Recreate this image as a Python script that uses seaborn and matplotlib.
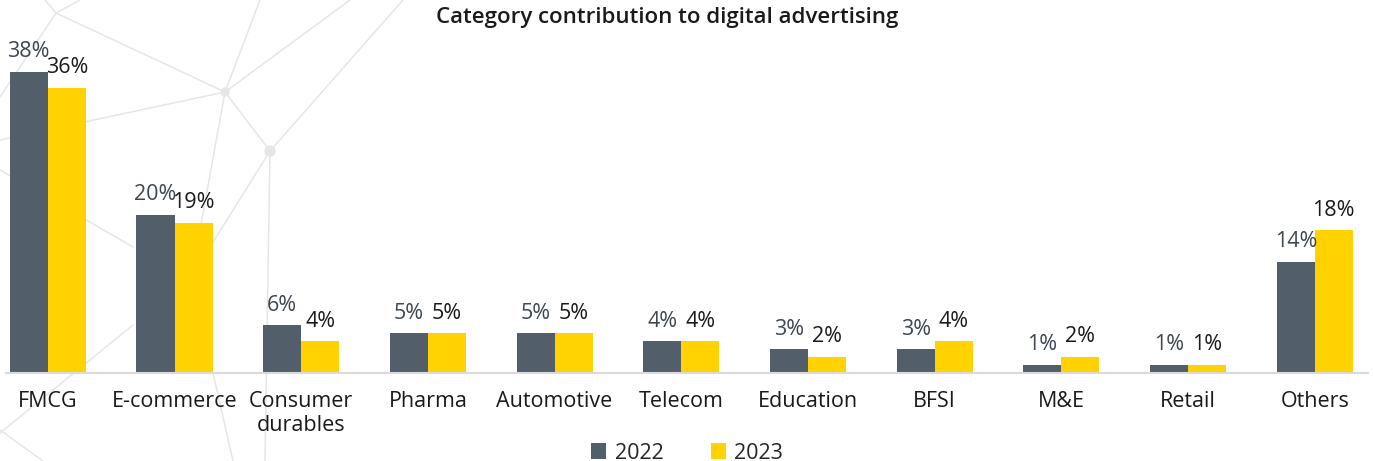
import pandas as pd
import matplotlib.pyplot as plt
import seaborn as sns
from matplotlib.lines import Line2D
from matplotlib.patches import Ellipse

# dados do gráfico
categorias = ["FMCG", "E-commerce", "Consumer\ndurables", "Pharma", "Automotive",
              "Telecom", "Education", "BFSI", "M&E", "Retail", "Others"]
valores_2022 = [38, 20, 6, 5, 5, 4, 3, 3, 1, 1, 14]
valores_2023 = [36, 19, 4, 5, 5, 4, 2, 4, 2, 1, 18]
anos = ["2022", "2023"]

df = pd.DataFrame({
    "Categoria": categorias * 2,
    "Ano": [anos[0]] * len(categorias) + [anos[1]] * len(categorias),
    "Valor": valores_2022 + valores_2023,
})

sns.set_style("white")
plt.rcParams["font.family"] = ["Open Sans", "DejaVu Sans"]

W, H = 1373, 461
fig = plt.figure(figsize=(W / 100, H / 100), dpi=100)

# fundo decorativo (rede de linhas claras no canto superior esquerdo)
segmentos = [((45, 0), (56, 13)), ((56, 13), (80, 0)), ((56, 13), (225, 92)),
             ((56, 13), (0, 97)), ((225, 92), (260, 0)), ((225, 92), (350, 0)),
             ((225, 92), (0, 140)), ((225, 92), (270, 151)), ((225, 92), (200, 230)),
             ((270, 151), (403, 0)), ((270, 151), (210, 247)), ((270, 151), (265, 461)),
             ((0, 170), (133, 247)), ((0, 433), (133, 325)), ((213, 373), (233, 461)),
             ((0, 430), (43, 461))]
for (x0, y0), (x1, y1) in segmentos:
    fig.add_artist(Line2D([x0 / W, x1 / W], [1 - y0 / H, 1 - y1 / H],
                          transform=fig.transFigure, color="#E6E6E8", lw=1.1, zorder=-1))
for (cx, cy), r in [((225, 92), 4), ((270, 151), 5)]:
    fig.add_artist(Ellipse((cx / W, 1 - cy / H), 2 * r / W, 2 * r / H,
                           transform=fig.transFigure, color="#E6E6E8", zorder=-1))

ax = fig.add_axes([6 / W, 88 / H, 1362 / W, 333 / H])
ax.patch.set_alpha(0)

cores = {"2022": "#535E6B", "2023": "#FFD200"}
sns.barplot(data=df, x="Categoria", y="Valor", hue="Ano", palette=cores,
            width=0.6, gap=0, saturation=1, linewidth=0, ax=ax, legend=True)

# rótulos de valor
cores_txt = ["#3E4652", "#1A1A1A"]
for cont, cor in zip(ax.containers, cores_txt):
    ax.bar_label(cont, fmt="%.0f%%", padding=7, fontsize=15.5, color=cor)

ax.set_xlim(-0.33, 10.42)
ax.set_ylim(0, 42.05)
ax.set_xlabel("")
ax.set_ylabel("")
ax.set_yticks([])
ax.tick_params(axis="x", length=0, labelsize=15.5, pad=13, colors="#1A1A1A")
for s in ["top", "right", "left"]:
    ax.spines[s].set_visible(False)
ax.spines["bottom"].set_color("#D9D9DE")
ax.spines["bottom"].set_linewidth(1.5)

fig.suptitle("Category contribution to digital advertising", x=667 / W, y=0.985,
             fontsize=16, fontweight="semibold", color="#1A1A1A")

ax.legend(loc="lower center", bbox_to_anchor=(0.5, -0.33),
          ncol=2, frameon=False, fontsize=15.5, handlelength=0.7, handleheight=0.7,
          handletextpad=0.4, columnspacing=2.2)

fig.savefig("out.png", dpi=100, facecolor="white")
